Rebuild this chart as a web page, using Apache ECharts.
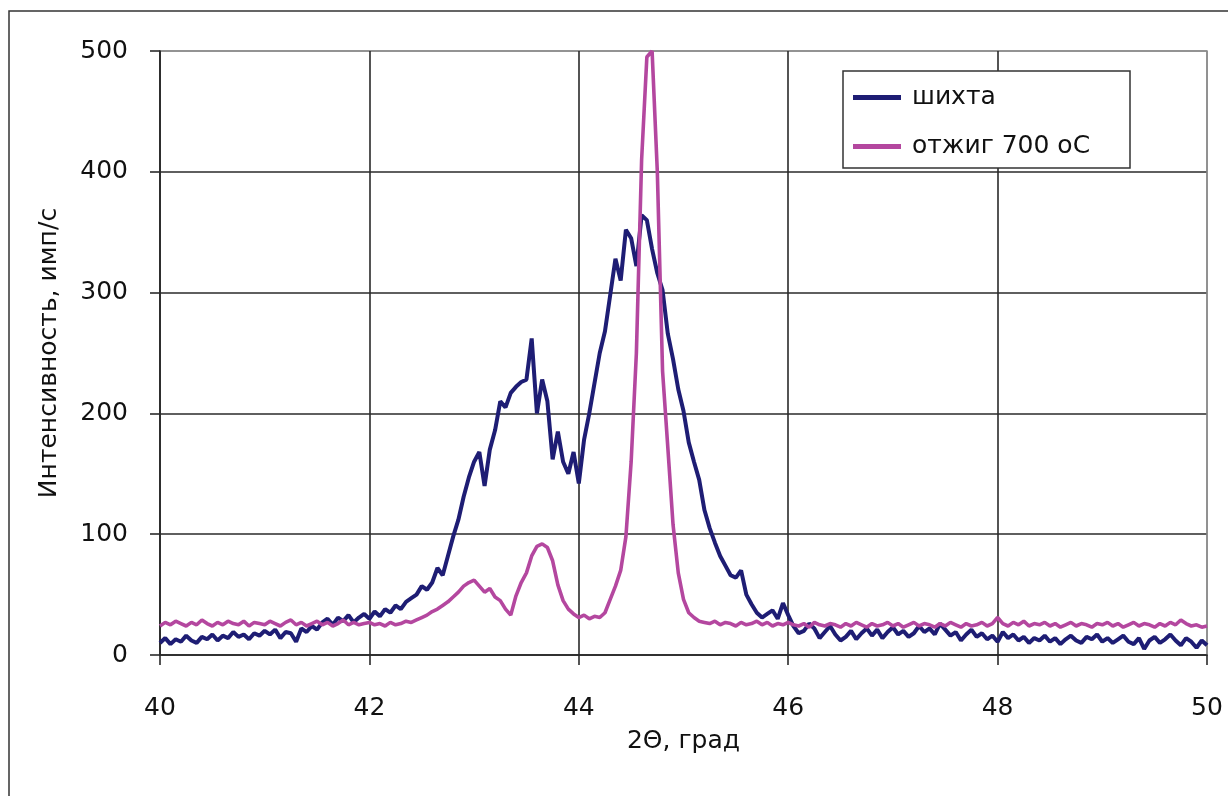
<!DOCTYPE html>
<html>
<head>
<meta charset="utf-8">
<script src="https://cdn.jsdelivr.net/npm/echarts@6/dist/echarts.min.js"></script>
<style>
  html, body { margin: 0; padding: 0; background: #ffffff; }
  #chart { width: 1228px; height: 796px; }
</style>
</head>
<body>
<div id="chart"></div>
<script>
// Diffraction scan: 2Θ from 40° to 50°, step 0.05°
const angleStart = 40;
const angleStep = 0.05;

// шихта (charge mixture), counts per second
const chargeCounts = [
  10,14,9,13,11,16,12,10,15,13,17,12,16,14,19,15,17,13,18,16,
  20,17,21,14,19,18,11,22,19,24,21,27,30,25,31,28,33,27,31,34,
  30,36,32,38,35,41,38,44,47,50,57,54,60,72,66,82,98,112,131,147,
  160,168,140,170,186,210,205,217,222,226,228,262,200,228,210,162,185,160,150,168,
  142,178,200,225,250,268,298,328,310,352,345,322,364,360,336,316,302,266,245,220,
  202,176,160,145,120,105,93,82,74,66,64,70,50,42,35,31,34,37,30,43,
  33,24,18,20,26,22,14,19,24,17,12,15,20,13,18,22,16,21,14,19,
  23,17,20,15,18,24,19,22,17,26,21,16,19,12,17,21,15,18,13,16,
  11,19,14,17,12,15,10,14,12,16,11,14,9,13,16,12,10,15,13,17,
  11,14,10,13,16,11,9,14,5,12,15,10,13,17,12,8,14,11,6,12,
  8
];

// отжиг 700 оС (annealed at 700 °C), counts per second
const annealedCounts = [
  24,27,25,28,26,24,27,25,29,26,24,27,25,28,26,25,28,24,27,26,
  25,28,26,24,27,29,25,27,24,26,28,25,27,24,26,29,25,27,25,26,
  27,25,26,24,27,25,26,28,27,29,31,33,36,38,41,44,48,52,57,60,
  62,57,52,55,48,45,38,33,49,60,68,82,90,92,89,78,58,45,38,34,
  31,33,30,32,31,35,46,57,70,98,160,250,410,495,500,400,235,172,108,68,
  46,35,31,28,27,26,28,25,27,26,24,27,25,26,28,25,27,24,26,25,
  27,25,24,26,23,27,25,24,26,25,23,26,24,27,25,23,26,24,25,27,
  24,26,23,25,27,24,26,25,23,26,24,27,25,23,26,24,25,27,24,26,
  31,26,24,27,25,28,24,26,25,27,24,26,23,25,27,24,26,25,23,26,
  25,27,24,26,23,25,27,24,26,25,23,26,24,27,25,29,26,24,25,23,
  24
];

const seriesNames = ['шихта', 'отжиг 700 оС'];
const xAxisTitle = '2Θ, град';
const yAxisTitle = 'Интенсивность, имп/с';

function toPoints(values) {
  return values.map((v, i) => [+(angleStart + i * angleStep).toFixed(2), v]);
}

const FONT = 'DejaVu Sans';
const GRID_DARK = '#2a2a2a';
const GRID_EDGE = '#8c8c8c';
const NAVY = '#1e1d74';
const MAGENTA = '#b4479f';

const chart = echarts.init(document.getElementById('chart'), null, { renderer: 'canvas' });

chart.setOption({
  backgroundColor: '#ffffff',
  animation: false,
  textStyle: { fontFamily: FONT },
  grid: {
    left: 160, right: 21, top: 51, bottom: 141,
    show: true, borderColor: GRID_EDGE, borderWidth: 1.5, backgroundColor: 'transparent'
  },
  graphic: [
    {
      type: 'rect', z: -1, silent: true,
      shape: { x: 9, y: 11, width: 1300, height: 900 },
      style: { fill: 'none', stroke: '#333333', lineWidth: 1.5 }
    },
    {
      type: 'rect', z: 10, silent: true,
      shape: { x: 843, y: 71, width: 287, height: 97 },
      style: { fill: '#ffffff', stroke: '#333333', lineWidth: 1.5 }
    }
  ],
  legend: {
    data: seriesNames,
    orient: 'vertical',
    left: 853, top: 85,
    padding: 0,
    icon: 'rect',
    itemWidth: 48, itemHeight: 5, itemGap: 24,
    z: 20,
    textStyle: { fontFamily: FONT, fontSize: 25, color: '#111111', lineHeight: 25, padding: [0, 0, 0, 6] }
  },
  xAxis: {
    type: 'value', min: 40, max: 50, interval: 2,
    name: xAxisTitle, nameLocation: 'middle', nameGap: 74,
    nameTextStyle: { fontFamily: FONT, fontSize: 25, color: '#111111' },
    axisLine: { show: true, onZero: false, lineStyle: { color: GRID_DARK, width: 1.6 } },
    axisTick: { show: true, inside: false, length: 10, lineStyle: { color: GRID_DARK, width: 1.6 } },
    axisLabel: { fontFamily: FONT, fontSize: 25, color: '#111111', margin: 41 },
    splitLine: { show: true, lineStyle: { color: [GRID_DARK, GRID_DARK, GRID_DARK, GRID_DARK, GRID_DARK, GRID_EDGE], width: 1.6 } }
  },
  yAxis: {
    type: 'value', min: 0, max: 500, interval: 100,
    name: yAxisTitle, nameLocation: 'middle', nameGap: 98, nameRotate: 90,
    nameTextStyle: { fontFamily: FONT, fontSize: 25, color: '#111111' },
    axisLine: { show: true, lineStyle: { color: GRID_DARK, width: 1.6 } },
    axisTick: { show: true, inside: false, length: 10, lineStyle: { color: GRID_DARK, width: 1.6 } },
    axisLabel: { fontFamily: FONT, fontSize: 25, color: '#111111', margin: 32 },
    splitLine: { show: true, lineStyle: { color: [GRID_DARK, GRID_DARK, GRID_DARK, GRID_DARK, GRID_DARK, GRID_EDGE], width: 1.6 } }
  },
  series: [
    {
      name: seriesNames[0], type: 'line', data: toPoints(chargeCounts),
      symbol: 'none', smooth: false,
      itemStyle: { color: NAVY },
      lineStyle: { color: NAVY, width: 4 }
    },
    {
      name: seriesNames[1], type: 'line', data: toPoints(annealedCounts),
      symbol: 'none', smooth: false,
      itemStyle: { color: MAGENTA },
      lineStyle: { color: MAGENTA, width: 3.6 }
    }
  ]
});
</script>
</body>
</html>
